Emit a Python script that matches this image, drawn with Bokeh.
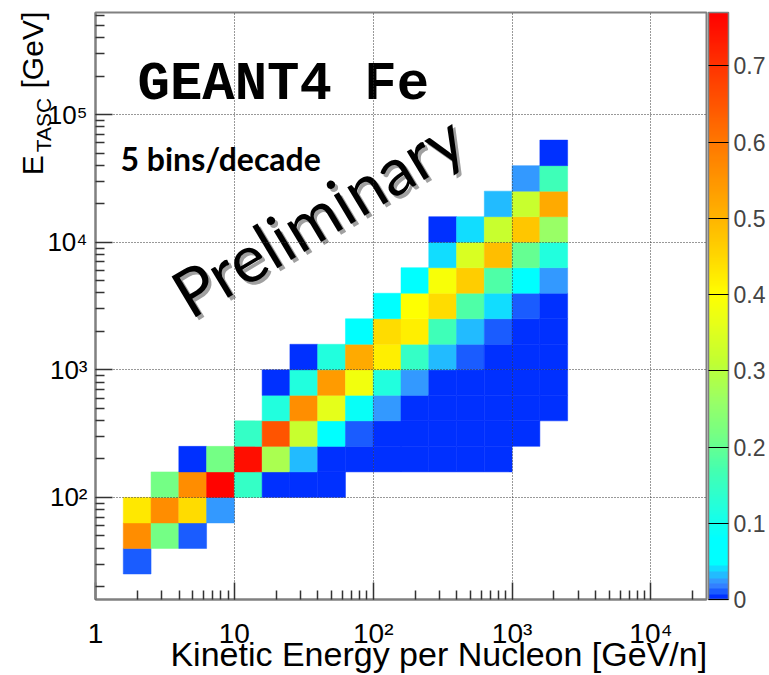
import math
from bokeh.plotting import figure
from bokeh.models import (ColumnDataSource, LinearColorMapper, ColorBar,
                          FixedTicker, Label, LogAxis)
from bokeh.embed import file_html
from bokeh.resources import INLINE

# ---------------- data ----------------
bins_per_decade = 5
x_log_range = (0.0, 4.4)       # log10 of kinetic energy per nucleon [GeV/n]
y_log_range = (1.2, 5.8)       # log10 of E_TASC [GeV]
z_low, z_high = 0.0, 0.77

# histogram columns: x-bin index (bin k spans 10^(k/5) .. 10^((k+1)/5))
col_bin = [1, 2, 3, 4, 5, 6, 7, 8, 9, 10, 11, 12, 13, 14, 15, 16]
# index of the lowest filled y-bin of every column
col_first_row = [7, 8, 8, 9, 10, 10, 10, 10, 11, 11, 11, 11, 11, 11, 12, 13]
# bin contents of every column, from its lowest filled y-bin upwards
col_values = [
    [0.010, 0.565, 0.430],
    [0.215, 0.565, 0.215],
    [0.010, 0.445, 0.565, 0.003],
    [0.024, 0.765, 0.215],
    [0.145, 0.750, 0.145],
    [0.003, 0.280, 0.650, 0.120, 0.003],
    [0.003, 0.031, 0.320, 0.560, 0.120, 0.003],
    [0.003, 0.003, 0.065, 0.360, 0.540, 0.120],
    [0.003, 0.010, 0.090, 0.380, 0.515, 0.065],
    [0.003, 0.003, 0.024, 0.120, 0.420, 0.445, 0.065],
    [0.003, 0.003, 0.003, 0.024, 0.145, 0.420, 0.400, 0.065],
    [0.003, 0.003, 0.003, 0.003, 0.031, 0.160, 0.445, 0.390, 0.040, 0.003],
    [0.003, 0.003, 0.003, 0.003, 0.010, 0.031, 0.180, 0.465, 0.345, 0.040],
    [0.003, 0.003, 0.003, 0.003, 0.003, 0.010, 0.040, 0.180, 0.485, 0.320, 0.031],
    [0.003, 0.003, 0.003, 0.003, 0.003, 0.010, 0.065, 0.200, 0.475, 0.320, 0.024],
    [0.003, 0.003, 0.003, 0.003, 0.003, 0.024, 0.120, 0.260, 0.515, 0.160, 0.003],
]

x_ticks = [1, 10, 100, 1000, 10000]
x_tick_labels = ["1", "10", "10\u00b2", "10\u00b3", "10\u2074"]
y_ticks = [100, 1000, 10000, 100000]
y_tick_labels = ["10\u00b2", "10\u00b3", "10\u2074", "10\u2075"]
z_ticks = [0, 0.1, 0.2, 0.3, 0.4, 0.5, 0.6, 0.7]
z_tick_labels = ["0", "0.1", "0.2", "0.3", "0.4", "0.5", "0.6", "0.7"]

x_title = "Kinetic Energy per Nucleon [GeV/n]"
y_title_main = "E"
y_title_sub = "TASC"
y_title_unit = "[GeV]"
text_title = "GEANT4 Fe"
text_bins = "5 bins/decade"
text_prelim = "Preliminary"

# ---------------- palette (ROOT-like rainbow) ----------------
stops = [
    (0.000, "#0030ff"), (0.007, "#0030ff"), (0.007, "#1a5cff"), (0.014, "#1a5cff"),
    (0.014, "#3380ff"), (0.021, "#3380ff"), (0.021, "#3399ff"), (0.028, "#3399ff"),
    (0.028, "#22bbff"), (0.035, "#22bbff"), (0.035, "#11ddff"), (0.045, "#11ddff"),
    (0.045, "#00ffff"), (0.080, "#00ffff"), (0.120, "#22ffdd"), (0.170, "#44ffb0"),
    (0.210, "#70ff88"), (0.260, "#99ff66"), (0.310, "#c0ff33"), (0.360, "#e5ff1a"),
    (0.400, "#ffff00"), (0.450, "#ffd700"), (0.500, "#ffb400"), (0.550, "#ff9500"),
    (0.600, "#ff7700"), (0.650, "#ff5500"), (0.700, "#ff3300"), (0.770, "#ff0000"),
]


def _rgb(h):
    return tuple(int(h[i:i + 2], 16) for i in (1, 3, 5))


def _color_at(v):
    for (v0, c0), (v1, c1) in zip(stops[:-1], stops[1:]):
        if v0 <= v <= v1 and v1 > v0:
            t = (v - v0) / (v1 - v0)
            a, b = _rgb(c0), _rgb(c1)
            return "#%02x%02x%02x" % tuple(round(a[i] + (b[i] - a[i]) * t) for i in range(3))
    return stops[-1][1]


n_colors = 256
palette = [_color_at(z_low + (i + 0.5) / n_colors * (z_high - z_low)) for i in range(n_colors)]
mapper = LinearColorMapper(palette=palette, low=z_low, high=z_high)

# ---------------- build cells ----------------
left, right, bottom, top, zs = [], [], [], [], []
for k, r0, vals in zip(col_bin, col_first_row, col_values):
    for j, z in enumerate(vals):
        r = r0 + j
        left.append(10 ** (k / bins_per_decade))
        right.append(10 ** ((k + 1) / bins_per_decade))
        bottom.append(10 ** (r / bins_per_decade))
        top.append(10 ** ((r + 1) / bins_per_decade))
        zs.append(z)
src = ColumnDataSource(dict(left=left, right=right, bottom=bottom, top=top, z=zs))

# ---------------- figure ----------------
p = figure(width=769, height=675, x_axis_type="log", y_axis_type="log",
           x_range=(10 ** x_log_range[0], 10 ** x_log_range[1]),
           y_range=(10 ** y_log_range[0], 10 ** y_log_range[1]),
           output_backend="svg", toolbar_location=None,
           min_border_left=95, min_border_right=63,
           min_border_top=12, min_border_bottom=76)
p.background_fill_color = "white"
p.border_fill_color = "white"
p.outline_line_color = "#808080"
p.outline_line_width = 2

p.quad(left="left", right="right", bottom="bottom", top="top", source=src,
       fill_color={"field": "z", "transform": mapper},
       line_color={"field": "z", "transform": mapper}, line_width=0.5)

xax = p.xaxis[0]
yax = p.yaxis[0]
x_minor = [m * 10 ** d for d in range(0, 5) for m in range(2, 10)]
y_minor = [m * 10 ** d for d in range(1, 6) for m in range(2, 10)]
xt = FixedTicker(ticks=x_ticks, minor_ticks=x_minor)
yt = FixedTicker(ticks=y_ticks, minor_ticks=y_minor)
xax.ticker = xt
yax.ticker = yt
p.xgrid[0].ticker = xt
p.ygrid[0].ticker = yt
xax.major_label_overrides = dict(zip(x_ticks, x_tick_labels))
yax.major_label_overrides = dict(zip(y_ticks, y_tick_labels))

for ax in (xax, yax):
    ax.axis_line_color = "#808080"
    ax.axis_line_width = 2
    ax.major_tick_line_color = "#333333"
    ax.minor_tick_line_color = "#333333"
    ax.major_tick_line_width = 1.5
    ax.minor_tick_line_width = 1.5
    ax.major_tick_in = 17
    ax.major_tick_out = 0
    ax.minor_tick_in = 9
    ax.minor_tick_out = 0
    ax.major_label_text_font = "Liberation Sans"
    ax.major_label_text_color = "black"
    ax.axis_label_text_font = "Liberation Sans"
    ax.axis_label_text_font_style = "normal"
    ax.axis_label_text_color = "black"
xax.major_label_text_font_size = "28px"
yax.major_label_text_font_size = "26px"
xax.major_label_standoff = 18
yax.major_label_standoff = 8

for g in (p.xgrid[0], p.ygrid[0]):
    g.grid_line_color = "#333333"
    g.grid_line_dash = "1 2"
    g.grid_line_width = 1
    g.level = "overlay"

# ---------------- axis titles (ROOT style, flush with the axis end) ----------------
# Bokeh centres an axis label on its axis; non-breaking spaces at the start
# push the visible words to the far end of the axis, as ROOT draws them.
NB = "\u00a0"
x_text = NB * 8 + x_title
y_text = NB * 51 + y_title_main + NB * 8 + y_title_unit
s_text = NB * 62 + y_title_sub

xax.axis_label = x_text
xax.axis_label_text_font_size = "34px"
xax.axis_label_standoff = -17

# subscript drawn as the label of the main y axis
yax.axis_label = s_text
yax.axis_label_text_font_size = "21px"
yax.axis_label_standoff = -11

# main part of the y title on a second, tick-less axis
yax2 = LogAxis(ticker=FixedTicker(ticks=[]), axis_line_color=None,
               major_tick_line_color=None, minor_tick_line_color=None,
               major_label_standoff=0, major_label_text_font_size="1px",
               axis_label=y_text, axis_label_standoff=-19,
               axis_label_text_font="Liberation Sans",
               axis_label_text_font_style="normal", axis_label_text_color="black",
               axis_label_text_font_size="30px")
p.add_layout(yax2, "left")

# ---------------- colour bar ----------------
cb = ColorBar(color_mapper=mapper, ticker=FixedTicker(ticks=z_ticks),
              major_label_overrides=dict(zip(z_ticks, z_tick_labels)),
              width=20, height=587, location=(613, 0), margin=0, padding=0,
              major_label_text_font="Liberation Sans",
              major_label_text_font_size="23px", label_standoff=5,
              major_tick_in=20, major_tick_out=0, major_tick_line_color="black",
              major_tick_line_width=1.2,
              minor_tick_line_color=None, bar_line_color="#808080",
              bar_line_width=1.5, background_fill_color=None, border_line_color=None)
p.add_layout(cb)

# ---------------- texts in the frame ----------------
p.add_layout(Label(x=42, y=515, x_units="screen", y_units="screen", text=text_title,
                   text_font="Liberation Mono", text_font_style="bold",
                   text_font_size="54px", text_color="black", text_baseline="alphabetic"))
p.add_layout(Label(x=25, y=441, x_units="screen", y_units="screen", text=text_bins,
                   text_font="Lato", text_font_style="bold",
                   text_font_size="32px", text_color="black", text_baseline="alphabetic"))
ang = math.radians(31)
p.add_layout(Label(x=85, y=298, x_units="screen", y_units="screen", text=text_prelim,
                   angle=ang, text_font="Lato", text_font_size="66px",
                   text_color="#a0a0a0", text_baseline="alphabetic"))
p.add_layout(Label(x=82, y=301, x_units="screen", y_units="screen", text=text_prelim,
                   angle=ang, text_font="Lato", text_font_size="66px",
                   text_color="black", text_baseline="alphabetic"))

open("out.html", "w").write(file_html(p, INLINE))
